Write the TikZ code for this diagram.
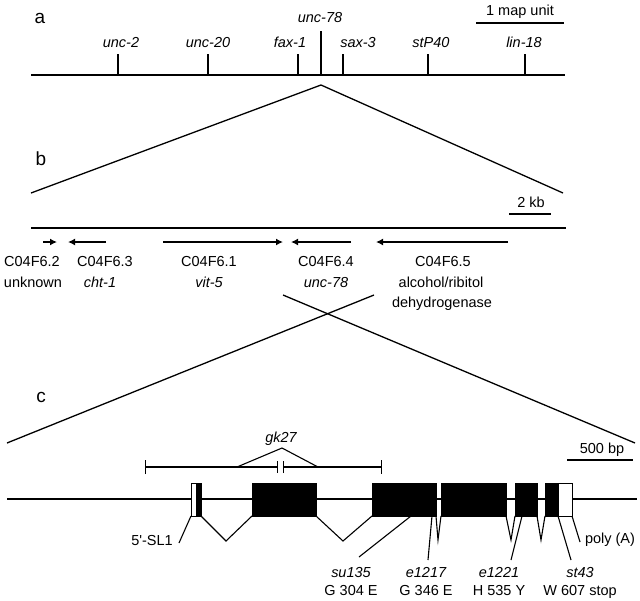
\documentclass[tikz,border=0pt]{standalone}
\usepackage{fontspec}
\setmainfont{Liberation Sans}
\usetikzlibrary{arrows.meta}

\begin{document}
\begin{tikzpicture}[x=1pt,y=-1pt,
    font=\fontsize{14.5}{20.5}\selectfont,
    every node/.style={inner sep=0pt},
    lbl/.style={anchor=base},
    loc/.style={anchor=base,font=\fontsize{14.5}{20.5}\selectfont\itshape},
    panel/.style={anchor=base,font=\fontsize{19}{22}\selectfont},
    chrom/.style={line width=2.4pt},
    bar/.style={line width=2.4pt},
    zoomline/.style={line width=1.3pt},
    orf/.style={line width=2.4pt,-{Latex[length=7pt,width=7pt]}},
    exon/.style={draw,line width=0.8pt,fill=black},
    utr/.style={draw,line width=0.8pt,fill=white},
    thin/.style={line width=1.1pt}]
        \useasboundingbox (0,0) rectangle (640,600);
        % a
        \node[panel] (pa) at (40,23) {a};
        \coordinate (aL) at (31,75);
        \coordinate (aR) at (565,75);
        \draw[chrom] (aL) -- (aR);
        \foreach \nm/\x/\lx in {unc-2/118/121,unc-20/208/208,fax-1/298/290,sax-3/343/358,stP40/428/431,lin-18/525/524} {
            \draw[bar] (\x,75) -- (\x,54);
            \node[loc] (loc\x) at (\lx,47) {\nm};
        }
        \draw[bar] (321,75) -- (321,31);
        \node[loc] (unc78) at (320,22) {unc-78};
        \draw[bar] (476,23) -- (564,23);
        \node[lbl] (mapunit) at (520,15) {1 map unit};
        \coordinate (za) at (321,85);
        \coordinate (zbL) at (31,193);
        \coordinate (zbR) at (563,193);
        \draw[zoomline] (zbL) -- (za) -- (zbR);
        % b
        \node[panel] (pb) at (41,165) {b};
        \draw[bar] (509,214) -- (551,214);
        \node[lbl] (kb) at (531,207) {2 kb};
        \draw[chrom] (31,228) -- (566,228);
        \draw[orf] (43,242) -- (57,242);
        \draw[orf] (106,242) -- (68,242);
        \draw[orf] (163,242) -- (283,242);
        \draw[orf] (351,242) -- (291,242);
        \draw[orf] (508,242) -- (376,242);
        \foreach \id/\x/\dx/\desc in {2/32/33/unknown,3/105/100/\textit{cht-1},1/209/209/\textit{vit-5},4/326/326/\textit{unc-78},5/443/441/{alcohol/ribitol}} {
            \node[lbl] (orf\id) at (\x,266) {C04F6.\id};
            \node[lbl] (desc\id) at (\dx,287) {\desc};
        }
        \node[lbl] (desc5b) at (442,307) {dehydrogenase};
        \coordinate (zc1) at (283,295);
        \coordinate (zc2) at (374,295);
        \coordinate (zcL) at (7,443);
        \coordinate (zcR) at (635,443);
        \draw[zoomline] (zc1) -- (zcR);
        \draw[zoomline] (zc2) -- (zcL);
        % c
        \node[panel] (pc) at (41,402) {c};
        \draw[bar] (567,460) -- (633,460);
        \node[lbl] (bp) at (602,453) {500 bp};
        \draw[thin,{Bar[width=14pt]}-{Bar[width=12pt]}] (145,467) -- (278,467);
        \draw[thin,{Bar[width=12pt]}-{Bar[width=14pt]}] (283,467) -- (382,467);
        \draw[thin] (237,467) -- (282,448) -- (318,467);
        \node[loc] (gk27) at (281,442) {gk27};
        \draw[line width=2pt] (7,499) -- (637,499);
        \draw[utr] (191,483) rectangle (196,516);
        \draw[utr] (558,483) rectangle (572,516);
        \foreach \a/\b in {196/201,252/316,372/436,441/506,515/537,545/558}
            \draw[exon] (\a,483) rectangle (\b,516);
        \foreach \a/\m/\b/\d in {201/226/252/541,316/343/372/541,436/438/441/540,506/511/515/540,537/541/545/540}
            \draw[thin] (\a,516) -- (\m,\d) -- (\b,516);
        \node[lbl] (sl1) at (152,545) {5\textquotesingle-SL1};
        \coordinate (sl1tip) at (179,543);
        \draw[thin] (191,516) -- (sl1tip);
        \foreach \nm/\x/\aa/\px/\ex/\ey in {su135/351/G 304 E/411/359/557,e1217/426/G 346 E/432/428/560,e1221/499/H 535 Y/522/511/560,st43/580/W 607 stop/558/571/560} {
            \node[loc] (\nm) at (\x,577) {\nm};
            \node[lbl] (\nm aa) at (\x,595) {\aa};
            \coordinate (\nm tip) at (\ex,\ey);
            \draw[thin] (\px,516) -- (\nm tip);
        }
        \node[lbl] (polyA) at (610,543) {poly (A)};
        \coordinate (polyAtip) at (580,542);
        \draw[thin] (572,516) -- (polyAtip);
\end{tikzpicture}
\end{document}
